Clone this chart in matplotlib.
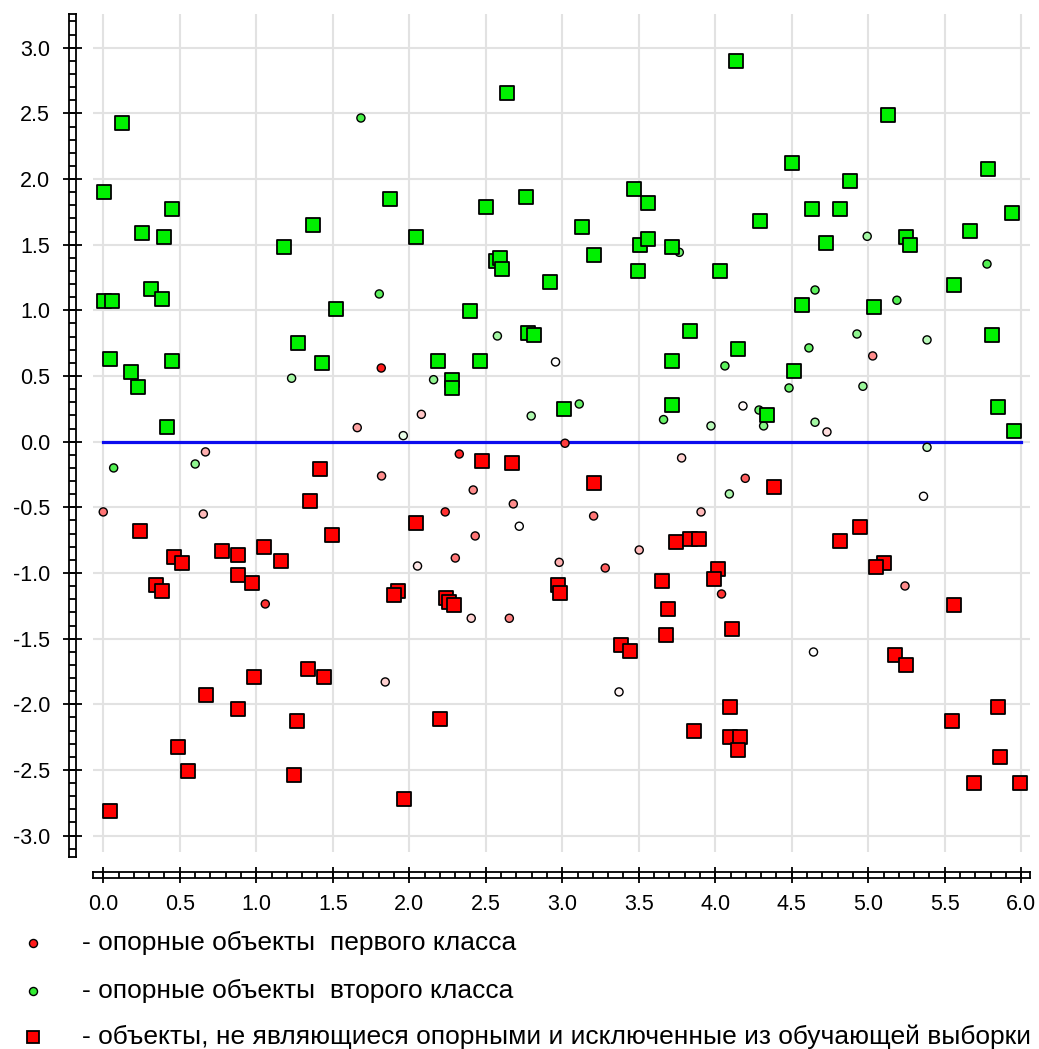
import numpy as np
import matplotlib
matplotlib.use('Agg')
import matplotlib.pyplot as plt
from matplotlib.lines import Line2D
from matplotlib.ticker import FixedLocator, MultipleLocator

plt.rcParams['font.family'] = ['Liberation Sans', 'DejaVu Sans']
plt.rcParams['axes.unicode_minus'] = False

# objects that are not support vectors (excluded from the training set)
green_sq_x = [0.005, 0.12, 0.007, 0.06, 0.045, 0.18, 0.23, 0.255, 0.40, 0.45,
              0.31, 0.384, 0.45, 0.415, 1.183, 1.369, 1.523, 1.275, 1.43, 1.876,
              2.044, 2.637, 2.501, 2.765, 2.57, 2.593, 2.606, 2.92, 3.127, 3.209,
              3.471, 3.56, 3.508, 3.562, 3.719, 3.497, 4.033, 2.397, 2.776, 2.817,
              3.835, 2.188, 2.464, 2.281, 2.281, 3.719, 3.011, 3.719, 4.137, 5.129,
              4.501, 4.882, 5.78, 4.63, 4.813, 4.292, 5.941, 4.724, 5.246, 5.272,
              5.665, 4.57, 5.035, 5.56, 4.15, 5.81, 4.514, 5.848, 4.338, 5.954]
green_sq_y = [1.90, 2.43, 1.07, 1.07, 0.63, 0.53, 0.42, 1.59, 1.56, 1.77,
              1.165, 1.085, 0.615, 0.11, 1.48, 1.65, 1.013, 0.754, 0.597, 1.85,
              1.557, 2.653, 1.785, 1.864, 1.378, 1.397, 1.313, 1.219, 1.635, 1.42,
              1.922, 1.816, 1.498, 1.544, 1.483, 1.298, 1.298, 0.995, 0.828, 0.813,
              0.843, 0.615, 0.615, 0.47, 0.407, 0.615, 0.249, 0.28, 2.9, 2.488,
              2.123, 1.986, 2.075, 1.772, 1.772, 1.681, 1.744, 1.513, 1.557, 1.498,
              1.605, 1.041, 1.026, 1.191, 0.704, 0.813, 0.538, 0.267, 0.203, 0.081]

red_sq_x = [0.242, 0.464, 0.516, 0.346, 0.384, 0.776, 0.882, 0.882, 0.974, 1.052,
            1.159, 1.416, 1.353, 1.497, 2.044, 1.928, 1.902, 0.987, 1.34, 1.444,
            0.673, 0.882, 1.264, 0.49, 0.556, 1.248, 0.046, 1.965, 2.477, 2.673,
            3.209, 2.24, 2.262, 2.292, 2.975, 2.988, 3.652, 3.743, 3.833, 3.895,
            4.02, 3.991, 3.693, 3.68, 3.382, 3.442, 2.203, 3.861, 4.386, 4.946,
            4.817, 5.104, 5.05, 5.56, 4.111, 5.172, 5.246, 4.096, 4.096, 4.163,
            4.15, 5.848, 5.547, 5.86, 5.691, 5.991]
red_sq_y = [-0.68, -0.878, -0.924, -1.093, -1.139, -0.832, -0.865, -1.015, -1.076, -0.8,
            -0.908, -0.208, -0.452, -0.711, -0.622, -1.135, -1.168, -1.792, -1.733, -1.792,
            -1.929, -2.038, -2.127, -2.325, -2.508, -2.538, -2.813, -2.721, -0.15, -0.162,
            -0.315, -1.193, -1.22, -1.246, -1.091, -1.155, -1.061, -0.762, -0.743, -0.743,
            -0.97, -1.046, -1.274, -1.472, -1.548, -1.594, -2.112, -2.203, -0.345, -0.652,
            -0.759, -0.924, -0.954, -1.246, -1.427, -1.627, -1.701, -2.021, -2.247, -2.247,
            -2.346, -2.021, -2.127, -2.401, -2.599, -2.599]

# support objects of the first class (red), w = colour intensity
sup1_x = [1.817, 1.66, 2.079, 2.956, 3.018, 4.181, 4.73, 5.029, 0.668, 0.0,
          0.654, 1.059, 1.819, 1.843, 2.054, 2.327, 2.418, 2.235, 2.68, 2.719,
          2.431, 2.301, 2.98, 3.205, 3.281, 3.503, 3.78, 3.907, 4.041, 2.405,
          2.654, 3.371, 4.196, 5.361, 5.24, 4.642]
sup1_y = [0.561, 0.107, 0.208, 0.607, -0.012, 0.272, 0.074, 0.653, -0.078, -0.535,
          -0.551, -1.236, -0.261, -1.83, -0.947, -0.094, -0.368, -0.535, -0.474, -0.644,
          -0.718, -0.886, -0.919, -0.566, -0.962, -0.825, -0.124, -0.535, -1.16, -1.345,
          -1.345, -1.906, -0.279, -0.416, -1.099, -1.602]
sup1_w = [1.0, 0.4, 0.25, 0.0, 0.85, 0.03, 0.15, 0.5, 0.35, 0.6,
          0.3, 0.9, 0.5, 0.2, 0.1, 0.95, 0.5, 0.9, 0.5, 0.0,
          0.6, 0.6, 0.35, 0.6, 0.7, 0.3, 0.2, 0.3, 0.9, 0.2,
          0.55, 0.05, 0.7, 0.02, 0.5, 0.0]

# support objects of the second class (green)
sup2_x = [1.684, 1.804, 1.231, 1.961, 2.576, 2.159, 2.797, 3.111, 3.662, 3.972,
          4.063, 3.765, 4.993, 5.776, 4.652, 5.187, 4.926, 5.384, 4.612, 4.482,
          4.965, 4.286, 4.316, 4.652, 5.384, 0.068, 0.601, 4.092]
sup2_y = [2.465, 1.125, 0.483, 0.046, 0.805, 0.472, 0.196, 0.287, 0.168, 0.12,
          0.577, 1.442, 1.564, 1.353, 1.155, 1.077, 0.82, 0.775, 0.714, 0.409,
          0.422, 0.241, 0.12, 0.148, -0.043, -0.2, -0.17, -0.398]
sup2_w = [0.9, 0.8, 0.45, 0.12, 0.45, 0.55, 0.4, 0.75, 0.75, 0.35,
          0.8, 0.7, 0.45, 0.85, 0.8, 0.85, 0.55, 0.35, 0.75, 0.75,
          0.5, 0.75, 0.6, 0.45, 0.3, 0.85, 0.55, 0.4]

# separating line
sep_x = [0.0, 6.0]
sep_y = [0.0, 0.0]

x_ticks = [0.0, 0.5, 1.0, 1.5, 2.0, 2.5, 3.0, 3.5, 4.0, 4.5, 5.0, 5.5, 6.0]
y_ticks = [-3.0, -2.5, -2.0, -1.5, -1.0, -0.5, 0.0, 0.5, 1.0, 1.5, 2.0, 2.5, 3.0]

legend_labels = ['- опорные объекты  первого класса',
                 '- опорные объекты  второго класса',
                 '- объекты, не являющиеся опорными и исключенные из обучающей выборки']

W, H = 1039, 1049
red_base = np.array([1.0, 0.1, 0.1])
green_base = np.array([0.2, 0.93, 0.2])


def shade(base, w):
    w = np.asarray(w)[:, None]
    return (1 - w) * np.ones(3) + w * base


def px_box(x0, y0, x1, y1):
    # pixel rectangle (top-left origin) -> figure fraction
    return [x0 / W, 1 - y1 / H, (x1 - x0) / W, (y1 - y0) / H]


fig = plt.figure(figsize=(W / 100, H / 100), dpi=100)

ax = fig.add_axes(px_box(93, 14, 1030, 852))
ax.set_xlim(-0.067, 6.057)
ax.set_ylim(-3.125, 3.257)
for s in ax.spines.values():
    s.set_visible(False)
ax.xaxis.set_major_locator(FixedLocator(x_ticks))
ax.yaxis.set_major_locator(FixedLocator(y_ticks))
ax.tick_params(length=0, labelbottom=False, labelleft=False)
ax.grid(True, color='#e2e2e2', lw=1.5)
ax.set_axisbelow(True)

ax.plot(sep_x, sep_y, color='#0c0cee', lw=2.3, zorder=2)
ax.scatter(sup1_x, sup1_y, s=34, c=shade(red_base, sup1_w), edgecolors='black',
           linewidths=1.0, zorder=3)
ax.scatter(sup2_x, sup2_y, s=34, c=shade(green_base, sup2_w), edgecolors='black',
           linewidths=1.0, zorder=3)
ax.scatter(green_sq_x, green_sq_y, s=92, marker='s', c='#00f000', edgecolors='black',
           linewidths=1.3, zorder=4)
ax.scatter(red_sq_x, red_sq_y, s=92, marker='s', c='#ff0000', edgecolors='black',
           linewidths=1.3, zorder=4)

# ruler-like x axis
axr = fig.add_axes(px_box(93, 872, 1030, 878))
axr.set_xlim(ax.get_xlim())
axr.set_ylim(0, 1)
axr.set_yticks([])
axr.xaxis.set_major_locator(FixedLocator(x_ticks))
axr.xaxis.set_minor_locator(MultipleLocator(0.1))
axr.set_xticklabels(['%.1f' % t for t in x_ticks])
axr.tick_params(axis='x', which='major', direction='inout', length=7.5, width=1.3,
                top=True, bottom=True, labelsize=15.5, pad=8.0)
axr.tick_params(axis='x', which='minor', direction='in', length=4.4, width=1.3,
                top=False, bottom=True)
for s in axr.spines.values():
    s.set_linewidth(1.3)

# ruler-like y axis
ayr = fig.add_axes(px_box(69, 14, 76, 857))
ayr.set_ylim(-3.163, 3.257)
ayr.set_xlim(0, 1)
ayr.set_xticks([])
ayr.yaxis.set_major_locator(FixedLocator(y_ticks))
ayr.yaxis.set_minor_locator(MultipleLocator(0.1))
ayr.set_yticklabels(['%.1f' % t for t in y_ticks])
ayr.tick_params(axis='y', which='major', direction='inout', length=8.6, width=1.3,
                left=True, right=True, labelsize=15.5, pad=9.4)
ayr.tick_params(axis='y', which='minor', direction='in', length=5.0, width=1.3,
                left=True, right=False)
for s in ayr.spines.values():
    s.set_linewidth(1.3)

# legend drawn below the axes
rows_y = [943, 991, 1037]
styles = [dict(marker='o', ms=5.8, mfc=tuple(red_base), mew=1.0),
          dict(marker='o', ms=5.8, mfc=tuple(green_base), mew=1.0),
          dict(marker='s', ms=9.3, mfc='#ff0000', mew=1.3)]
for label, yy, st in zip(legend_labels, rows_y, styles):
    fig.add_artist(Line2D([33 / W], [1 - yy / H], ls='none', mec='black',
                          transform=fig.transFigure, **st))
    fig.text(82 / W, 1 - yy / H, label, fontsize=19, va='center', ha='left')

fig.savefig('out.png', dpi=100)
